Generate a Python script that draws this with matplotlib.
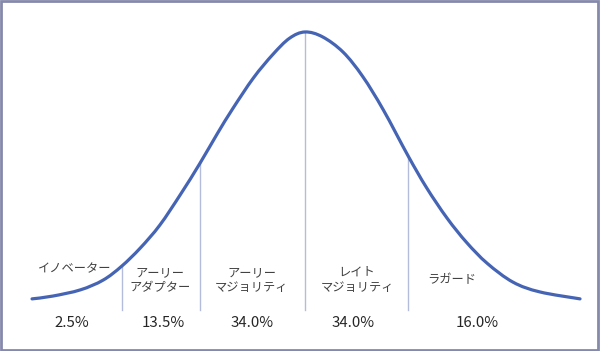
import matplotlib.pyplot as plt
from matplotlib.patches import Rectangle, PathPatch
from matplotlib.path import Path

plt.rcParams['font.family'] = ['Noto Sans CJK JP', 'DejaVu Sans']

# bell curve (x in standard deviations, y as density)
curve_x = [-2.65, -2.45, -2.18, -1.96, -1.78, -1.60, -1.41, -1.21, -1.02, -0.85,
           -0.70, -0.50, -0.31, -0.15, 0.00, 0.17, 0.37, 0.56, 0.76, 1.00,
           1.18, 1.38, 1.57, 1.77, 2.02, 2.28, 2.67]
curve_y = [0.016, 0.020, 0.029, 0.043, 0.063, 0.089, 0.122, 0.166, 0.211, 0.254,
           0.290, 0.334, 0.368, 0.391, 0.400, 0.393, 0.371, 0.336, 0.288, 0.222,
           0.176, 0.132, 0.097, 0.067, 0.040, 0.026, 0.016]

# segment boundaries and where they meet the curve
bound_x = [-1.78, -1.02, 0.00, 1.00]
bound_top = [0.063, 0.211, 0.400, 0.222]

groups = ['イノベーター', 'アーリー\nアダプター', 'アーリー\nマジョリティ',
          'レイト\nマジョリティ', 'ラガード']
shares = ['2.5%', '13.5%', '34.0%', '34.0%', '16.0%']


def smooth_path(xs, ys):
    # smoothed line like a spreadsheet chart: Catmull-Rom as bezier segments
    pts = list(zip(xs, ys))
    verts = [pts[0]]
    codes = [Path.MOVETO]
    n = len(pts)
    for i in range(n - 1):
        p0 = pts[i - 1] if i > 0 else pts[i]
        p1 = pts[i]
        p2 = pts[i + 1]
        p3 = pts[i + 2] if i + 2 < n else pts[i + 1]
        c1 = (p1[0] + (p2[0] - p0[0]) / 6, p1[1] + (p2[1] - p0[1]) / 6)
        c2 = (p2[0] - (p3[0] - p1[0]) / 6, p2[1] - (p3[1] - p1[1]) / 6)
        verts += [c1, c2, p2]
        codes += [Path.CURVE4] * 3
    return Path(verts, codes)


def main():
    fig = plt.figure(figsize=(6, 3.51), dpi=100)
    ax = fig.add_axes([0, 0, 1, 1])
    ax.set_xlim(-2.961, 2.864)
    ax.set_ylim(-0.059, 0.446)
    ax.axis('off')

    ax.add_patch(PathPatch(smooth_path(curve_x, curve_y), facecolor='none',
                           edgecolor='#4564b4', linewidth=2.3,
                           capstyle='round', joinstyle='round', zorder=3))

    for bx, top in zip(bound_x, bound_top):
        ax.plot([bx, bx], [0, top], color='#b3bddb', linewidth=1.0, zorder=2)

    # label placement
    label_x = [-2.233, -1.408, -0.515, 0.505, 1.427]
    label_y = [0.060, 0.043, 0.043, 0.043, 0.043]
    share_x = [-2.262, -1.379, -0.515, 0.466, 1.670]

    for g, lx, ly in zip(groups, label_x, label_y):
        ax.text(lx, ly, g, ha='center', va='center', fontsize=8.8,
                color='#404040', linespacing=1.25)
    for s, sx in zip(shares, share_x):
        ax.text(sx, -0.019, s, ha='center', va='center', fontsize=10.8,
                color='#262626')

    fig.patches.append(Rectangle((0.002, 0.003), 0.995, 0.993,
                                 transform=fig.transFigure, fill=False,
                                 edgecolor='#8589aa', linewidth=2.0))

    fig.savefig('out.png', dpi=100)


if __name__ == '__main__':
    main()
